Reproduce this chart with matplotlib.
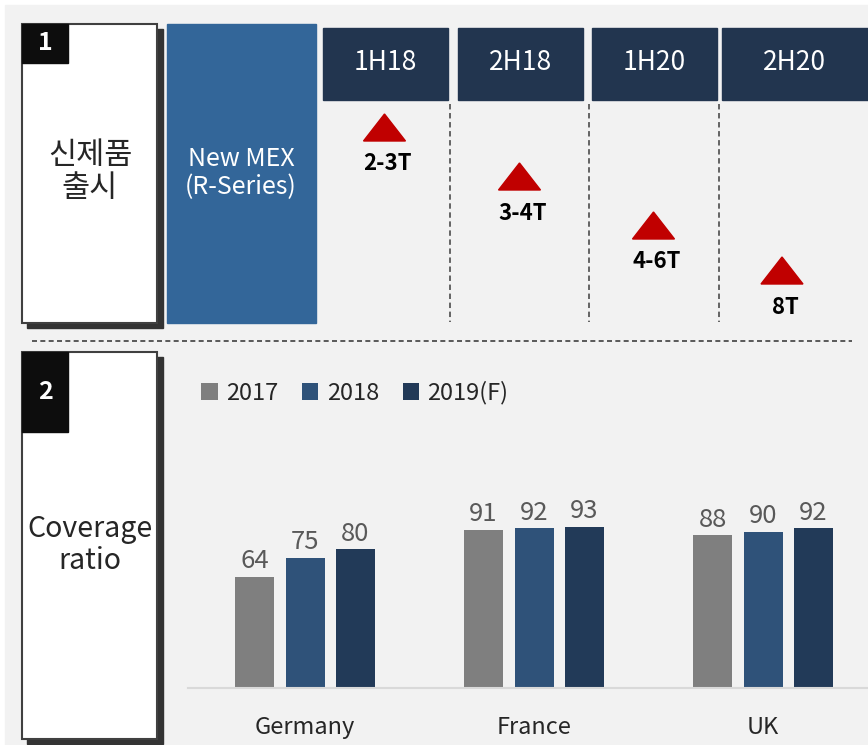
import matplotlib
matplotlib.use("Agg")
from matplotlib import pyplot as plt
from matplotlib.patches import Rectangle, Polygon
import numpy as np

plt.rcParams['font.family'] = ['Noto Sans CJK KR', 'DejaVu Sans']

# --- data ---
periods = ['1H18', '2H18', '1H20', '2H20']
period_targets = ['2-3T', '3-4T', '4-6T', '8T']
countries = ['Germany', 'France', 'UK']
years = ['2017', '2018', '2019(F)']
ratio_2017 = [64, 91, 88]
ratio_2018 = [75, 92, 90]
ratio_2019 = [80, 93, 92]

# --- layout (pixels) ---
W, H = 868, 745
header_x = [(323, 448), (458, 583), (592, 717), (722, 868)]
tri_top = [114, 163, 212, 257]
divider_x = [450, 589, 719]
bar_colors = ['#7f7f7f', '#2f5279', '#223a58']
navy = '#22354f'

fig = plt.figure(figsize=(W / 100, H / 100), dpi=100)
bg = fig.add_axes([0, 0, 1, 1])
bg.set_xlim(0, W)
bg.set_ylim(H, 0)
bg.axis('off')
bg.add_patch(Rectangle((5, 5), W, H, color='#f2f2f2', zorder=0))


def side_box(y0, y1, num, label, num_h, fs, ty):
    bg.add_patch(Rectangle((27, y0 + 5), 136, y1 - y0, color='#333333', zorder=1))
    bg.add_patch(Rectangle((22, y0), 135, y1 - y0, facecolor='white',
                           edgecolor='#404040', lw=1.5, zorder=2))
    bg.add_patch(Rectangle((22, y0), 46, num_h, color='#0d0d0d', zorder=3))
    bg.text(45, y0 + num_h / 2, num, color='white', fontsize=18, fontweight='bold',
            ha='center', va='center', zorder=4)
    bg.text(90, ty, label, color='#262626', fontsize=fs, fontweight='medium',
            ha='center', va='center', linespacing=1.1, zorder=4)


side_box(24, 323, '1', '신제품\n출시', 39, 22, 172)
side_box(352, 739, '2', 'Coverage\nratio', 80, 20.5, 545)

# New MEX block
bg.add_patch(Rectangle((167, 24), 149, 299, color='#336699', zorder=2))
bg.text(241, 173, 'New MEX\n(R-Series)', color='white', fontsize=18, fontweight='medium',
        ha='center', va='center', linespacing=1.15, zorder=3)

# period headers, triangles and targets
for (x0, x1), p, t, ty in zip(header_x, periods, period_targets, tri_top):
    bg.add_patch(Rectangle((x0, 28), x1 - x0, 72, color=navy, zorder=2))
    cx = (x0 + x1) / 2 if x1 < W else 794
    bg.text(cx, 63, p, color='white', fontsize=19, fontweight='medium',
            ha='center', va='center', zorder=3)
    cx = (cx - 1) if x1 < W else 782
    bg.add_patch(Polygon([(cx - 21, ty + 27), (cx + 21, ty + 27), (cx, ty)],
                         color='#c00000', zorder=3))
    bg.text(cx + 3, ty + 50, t, color='black', fontsize=16, fontweight='bold',
            ha='center', va='center', zorder=3)

for x in divider_x:
    bg.plot([x, x], [104, 322], color='#595959', lw=1.3, ls=(0, (3, 2)), zorder=2)
bg.plot([32, 852], [341, 341], color='#404040', lw=1.2, ls=(0, (3, 2)), zorder=2)

# --- bar chart ---
base_y, top_y, left_x = 688, 420, 188
px_per_unit = 1.734
ax = fig.add_axes([left_x / W, (H - base_y) / H, (W - left_x) / W, (base_y - top_y) / H])
ax.patch.set_alpha(0)
pitch = 229
ax.set_xlim(-(305 - left_x) / pitch, (W - 305) / pitch)
ax.set_ylim(0, (base_y - top_y) / px_per_unit)

x = np.arange(len(countries))
bw = 39 / pitch
off = 50.5 / pitch
for i, (vals, yr, c) in enumerate(zip([ratio_2017, ratio_2018, ratio_2019], years, bar_colors)):
    bars = ax.bar(x + (i - 1) * off, vals, width=bw, color=c, label=yr)
    ax.bar_label(bars, padding=2, fontsize=18.5, color='#595959')

for s in ['top', 'right', 'left']:
    ax.spines[s].set_visible(False)
ax.spines['bottom'].set_color('#d9d9d9')
ax.spines['bottom'].set_linewidth(1.5)
ax.set_yticks([])
ax.set_xticks(x)
ax.set_xticklabels(countries, fontsize=17, color='#262626')
ax.tick_params(axis='x', length=0, pad=20)

ax.legend(loc='upper left', bbox_to_anchor=(180 / W, 1 - 360 / H),
          bbox_transform=fig.transFigure, ncol=3, frameon=False, fontsize=17,
          handlelength=0.7, handleheight=0.7, handletextpad=0.35, columnspacing=1.0,
          labelcolor='#262626')

fig.savefig('out.png', dpi=100)
